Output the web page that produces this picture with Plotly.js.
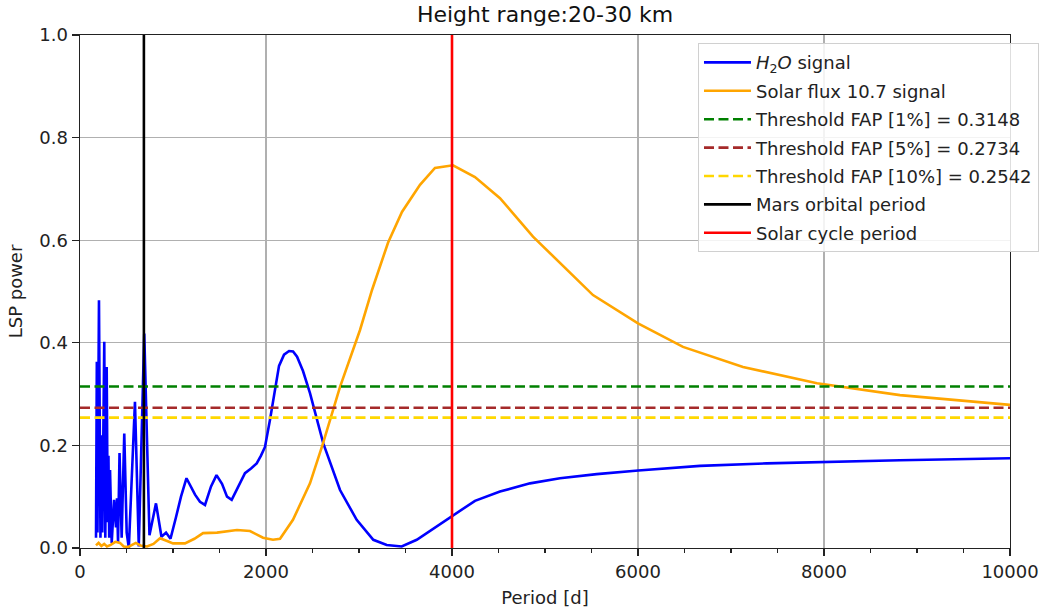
<!DOCTYPE html>
<html>
<head>
<meta charset="utf-8">
<script src="https://cdn.plot.ly/plotly-3.0.1.min.js"></script>
<style>
  html, body { margin: 0; padding: 0; background: #fff; }
  #chart { width: 1043px; height: 612px; }
</style>
</head>
<body>
<div id="chart"></div>
<script>
// Lomb-Scargle periodogram, 20-30 km layer
const h2oPeriod = [172,181,188,204,220,231,240,261,272,287,298,306,314,323,341,366,387,398,409,425,
  448,476,502,525,591,632,691,747,817,876,925,973,1032,1086,1145,1194,1237,1290,1344,1409,
  1468,1527,1581,1631,1699,1774,1839,1900,1946,1989,2043,2097,2140,2194,2248,2291,2334,2398,2473,2616,
  2796,2975,3154,3298,3459,3621,3836,4000,4247,4516,4839,5161,5556,6003,6667,7384,7993,8817,10000];
const h2oPower = [0.02,0.363,0.03,0.483,0.02,0.22,0.03,0.402,0.02,0.353,0.05,0.18,0.02,0.152,0.01,0.094,0.04,0.097,0.01,0.185,
  0.02,0.223,0.03,0.0,0.285,0.003,0.418,0.025,0.087,0.022,0.03,0.018,0.06,0.10,0.136,0.118,0.104,0.09,0.084,0.12,
  0.142,0.125,0.10,0.094,0.12,0.146,0.155,0.165,0.18,0.197,0.25,0.31,0.355,0.377,0.384,0.383,0.373,0.345,0.302,0.204,
  0.113,0.055,0.016,0.006,0.003,0.016,0.042,0.063,0.092,0.110,0.126,0.136,0.144,0.151,0.160,0.165,0.168,0.171,0.175];

const solarPeriod = [172,200,230,260,290,330,380,430,470,520,560,600,650,720,790,860,930,1000,1129,1230,
  1323,1473,1688,1828,1968,2075,2151,2290,2473,2613,2796,3011,3140,3312,3462,3656,3817,4011,4247,4516,
  4871,5161,5516,6000,6484,7129,7925,8817,10000];
const solarPower = [0.005,0.01,0.004,0.008,0.003,0.006,0.012,0.01,0.003,0.002,0.006,0.01,0.005,0.003,0.008,0.019,0.014,0.009,0.009,0.018,
  0.029,0.030,0.035,0.033,0.02,0.016,0.018,0.055,0.126,0.204,0.314,0.425,0.503,0.595,0.655,0.708,0.741,0.746,0.723,0.682,
  0.607,0.555,0.493,0.438,0.392,0.353,0.321,0.298,0.279];

const fapLabels = ['1%', '5%', '10%'];
const fapLevels = [0.3148, 0.2734, 0.2542];
const fapColors = ['green', 'brown', 'gold'];

const periodRange = [0, 10000];
const powerRange = [0, 1];
const marsOrbitalPeriod = 687;
const solarCyclePeriod = 4000;

const xTicks = [0, 2000, 4000, 6000, 8000, 10000];
const yTicks = [0, 0.2, 0.4, 0.6, 0.8, 1.0];

const FONT = 'DejaVu Sans, sans-serif';
const LW = 2.6;

const traces = [];
let g = 0;
traces.push({
  x: h2oPeriod, y: h2oPower, type: 'scatter', mode: 'lines',
  name: '<i>H</i><sub>2</sub><i>O</i> signal', legendgroup: 'g' + (g++),
  line: { color: 'blue', width: LW }
});
traces.push({
  x: solarPeriod, y: solarPower, type: 'scatter', mode: 'lines',
  name: 'Solar flux 10.7 signal', legendgroup: 'g' + (g++),
  line: { color: 'orange', width: LW }
});
fapLevels.forEach((v, i) => {
  traces.push({
    x: periodRange, y: [v, v], type: 'scatter', mode: 'lines',
    name: 'Threshold FAP [' + fapLabels[i] + '] = ' + v.toFixed(4), legendgroup: 'g' + (g++),
    line: { color: fapColors[i], width: LW, dash: '10px,4.5px' }
  });
});
traces.push({
  x: [marsOrbitalPeriod, marsOrbitalPeriod], y: powerRange, type: 'scatter', mode: 'lines',
  name: 'Mars orbital period', legendgroup: 'g' + (g++),
  line: { color: 'black', width: LW }
});
traces.push({
  x: [solarCyclePeriod, solarCyclePeriod], y: powerRange, type: 'scatter', mode: 'lines',
  name: 'Solar cycle period', legendgroup: 'g' + (g++),
  line: { color: 'red', width: LW }
});

const axisCommon = {
  showline: true, mirror: true, linecolor: '#222', linewidth: 1.4,
  showgrid: true, gridcolor: '#b0b0b0', gridwidth: 1.3,
  zeroline: false,
  ticks: 'outside', ticklen: 7, tickwidth: 1.4, tickcolor: '#222',
  tickfont: { family: FONT, size: 18, color: '#222' }
};

const layout = {
  width: 1043, height: 612,
  margin: { l: 80, r: 33, t: 35, b: 64, autoexpand: false },
  paper_bgcolor: '#fff', plot_bgcolor: '#fff',
  font: { family: FONT, color: '#222' },
  title: {
    text: 'Height range:20-30 km',
    font: { family: FONT, size: 22, color: '#111' },
    x: 0.5, xref: 'paper', xanchor: 'center',
    y: 0.977, yref: 'container', yanchor: 'middle'
  },
  xaxis: Object.assign({}, axisCommon, {
    range: periodRange, tickvals: xTicks, tickformat: 'd',
    minor: { dtick: 500, ticks: 'outside', ticklen: 4, tickwidth: 1.1, tickcolor: '#222', showgrid: false },
    title: { text: 'Period [d]', font: { family: FONT, size: 18, color: '#222' }, standoff: 10 }
  }),
  yaxis: Object.assign({}, axisCommon, {
    range: powerRange, tickvals: yTicks, tickformat: '.1f',
    title: { text: 'LSP power', font: { family: FONT, size: 18, color: '#222' }, standoff: 12 }
  }),
  showlegend: true,
  legend: {
    x: 0.6645, y: 0.984, xanchor: 'left', yanchor: 'top',
    bgcolor: 'rgba(255,255,255,0.85)', bordercolor: '#d0d0d0', borderwidth: 1,
    font: { family: FONT, size: 18, color: '#222' },
    itemwidth: 47,
    traceorder: 'grouped', tracegroupgap: 2
  }
};

Plotly.newPlot('chart', traces, layout, { displayModeBar: false, staticPlot: true });
</script>
</body>
</html>
